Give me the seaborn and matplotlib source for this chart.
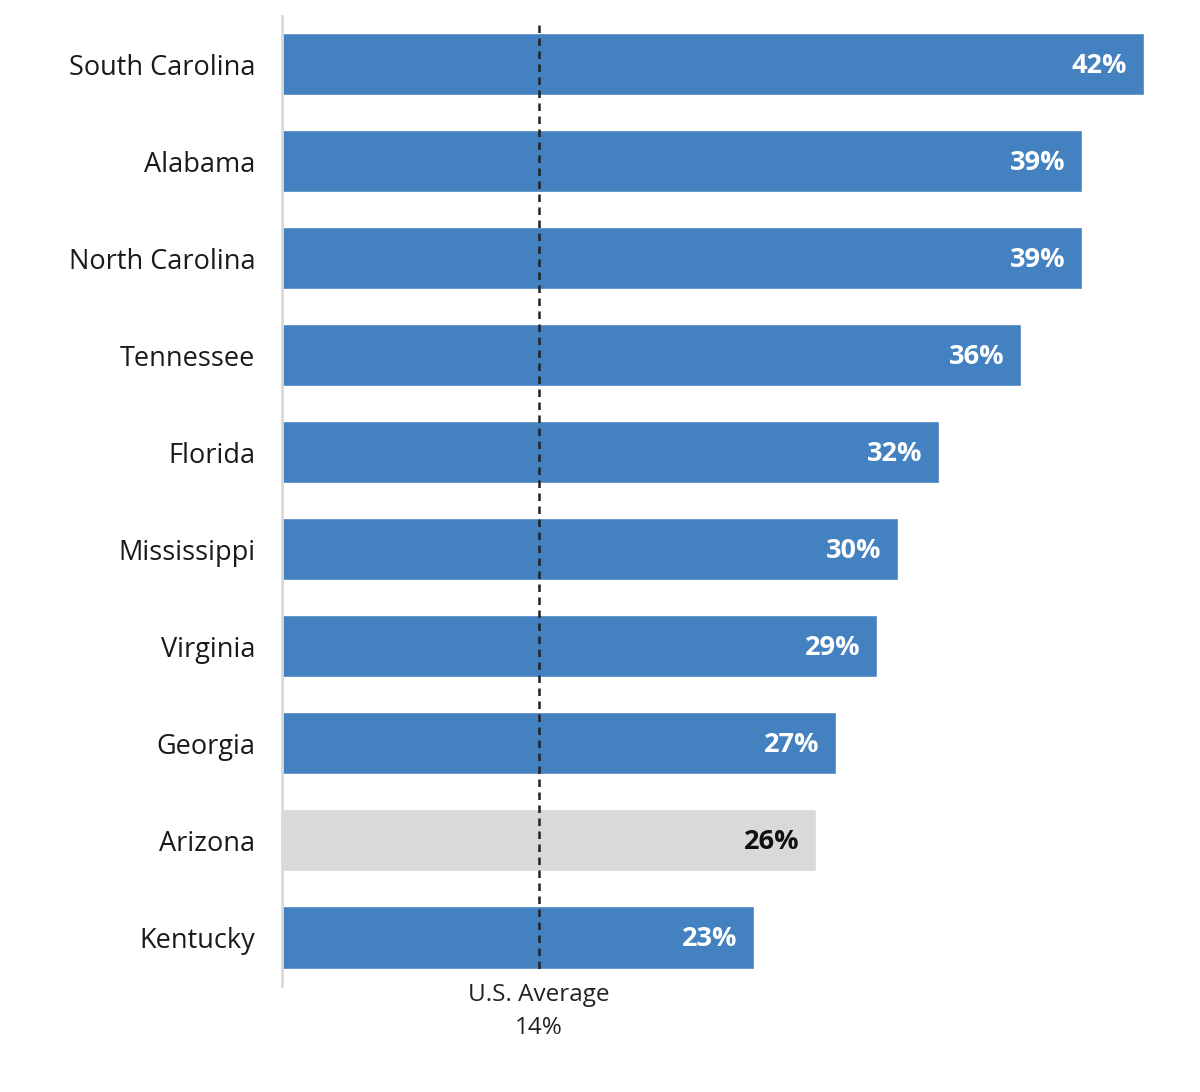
import matplotlib
matplotlib.use("Agg")
import matplotlib.pyplot as plt
import seaborn as sns
import pandas as pd

states = ["South Carolina", "Alabama", "North Carolina", "Tennessee", "Florida",
          "Mississippi", "Virginia", "Georgia", "Arizona", "Kentucky"]
values = [42, 39, 39, 36, 32, 30, 29, 27, 26, 23]
highlight = ["Arizona"]
us_avg_label = "14%"
us_avg_line_pos = 12.5  # where the reference draws the dashed line

sns.set_theme(style="white")
plt.rcParams['font.family'] = ['Open Sans', 'DejaVu Sans']

df = pd.DataFrame({"state": states, "value": values})
blue = "#4381C1"
grey = "#D9D9D9"
palette = {s: (grey if s in highlight else blue) for s in states}

fig = plt.figure(figsize=(12, 10.92), dpi=100)
ax = fig.add_axes([282/1200, 1-986/1092, (44*20.52)/1200, (986-15.5)/1092])

sns.barplot(data=df, x="value", y="state", hue="state", palette=palette,
            order=states, orient="h", width=0.64, legend=False, ax=ax,
            saturation=1)

ax.set_xlim(0, 44)
ax.set_ylim(9.5, -0.5)
ax.set_xlabel("")
ax.set_ylabel("")
ax.set_xticks([])
for s in ["top", "right", "bottom"]:
    ax.spines[s].set_visible(False)
ax.spines["left"].set_color("#D9D9D9")
ax.spines["left"].set_linewidth(2)
ax.tick_params(axis="y", length=0, pad=19, labelsize=19.5, labelcolor="#1a1a1a")

for i, (s, v) in enumerate(zip(states, values)):
    col = "#111111" if s in highlight else "white"
    ax.text(v - 0.8, i + 0.02, f"{v}%", ha="right", va="center", fontsize=19.5,
            fontweight="bold", color=col)

ax.vlines(us_avg_line_pos, -0.4, 9.32, color="#222222", linestyles=(0, (3, 2.2)),
          lw=1.8, zorder=5)
ax.text(us_avg_line_pos, 9.59, "U.S. Average", ha="center", va="center", fontsize=17.5,
        color="#222222", clip_on=False)
ax.text(us_avg_line_pos, 9.93, us_avg_label, ha="center", va="center", fontsize=17.5,
        color="#222222", clip_on=False)

fig.savefig("out.png", dpi=100, facecolor="white")
